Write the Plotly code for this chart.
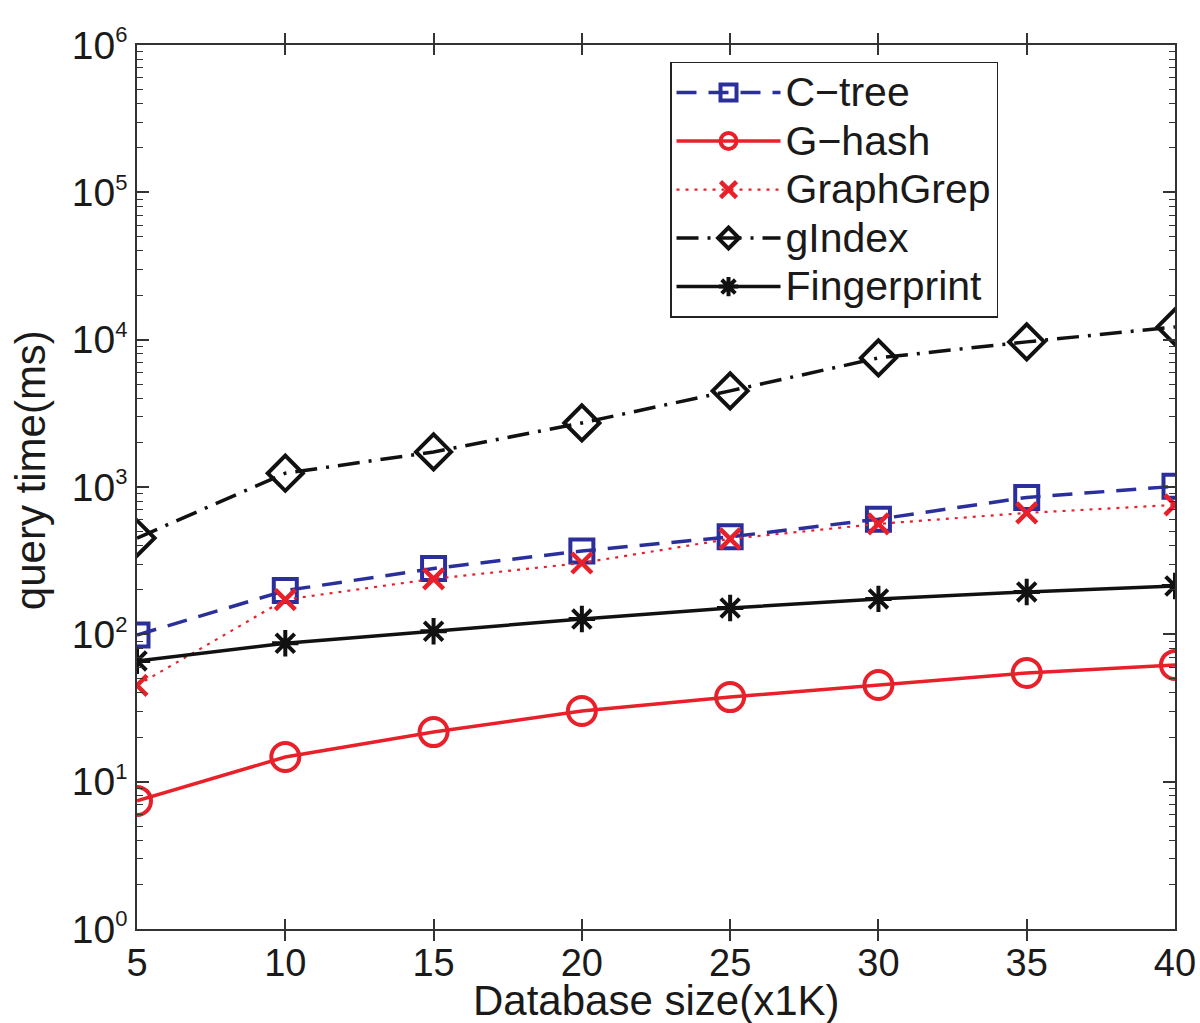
import plotly.graph_objects as go

db_size = [5, 10, 15, 20, 25, 30, 35, 40]
ctree = [99, 198, 280, 368, 459, 605, 850, 1010]
ghash = [7.4, 14.7, 21.7, 30.2, 37.5, 45.3, 54.7, 62]
graphgrep = [45, 172, 238, 305, 445, 562, 667, 756]
gindex = [450, 1240, 1730, 2720, 4490, 7520, 9660, 12200]
fingerprint = [66, 87, 105, 127, 151, 174, 194, 213]

series_names = ["C\u2212tree", "G\u2212hash", "GraphGrep", "gIndex", "Fingerprint"]
ytick_vals = [1, 10, 100, 1000, 10000, 100000, 1000000]
ytick_text = ['10<sup><span style="font-size:22px">%d</span></sup>' % i for i in range(7)]
xtick_vals = [5, 10, 15, 20, 25, 30, 35, 40]
minor_vals = [m * 10 ** e for e in range(6) for m in range(2, 10)]
x_title = "Database size(x1K)"
y_title = "query time(ms)"

BLUE = "#2a2f9c"
RED = "#e8202a"
BLACK = "#111111"
AX = "#333333"
TXT = "#1a1a1a"


def lname(s):
    return '<span style="font-size:41px">%s</span>' % s


fig = go.Figure()
fig.add_trace(go.Scatter(x=db_size, y=ctree, name=lname(series_names[0]), mode="lines+markers",
    line=dict(color=BLUE, width=3.5, dash="20px,12px"),
    marker=dict(symbol="square-open", size=23, color=BLUE, line=dict(width=4, color=BLUE))))
fig.add_trace(go.Scatter(x=db_size, y=ghash, name=lname(series_names[1]), mode="lines+markers",
    line=dict(color=RED, width=3.5),
    marker=dict(symbol="circle-open", size=28, color=RED, line=dict(width=4, color=RED))))
fig.add_trace(go.Scatter(x=db_size, y=graphgrep, name=lname(series_names[2]), mode="lines+markers",
    line=dict(color=RED, width=2.2, dash="3px,6px"),
    marker=dict(symbol="x-thin-open", size=20, color=RED, line=dict(width=4.5, color=RED))))
fig.add_trace(go.Scatter(x=db_size, y=gindex, name=lname(series_names[3]), mode="lines+markers",
    line=dict(color=BLACK, width=3.5, dash="22px,9px,3px,9px"),
    marker=dict(symbol="diamond-open", size=27, color=BLACK, line=dict(width=4, color=BLACK))))
fig.add_trace(go.Scatter(x=db_size, y=fingerprint, name=lname(series_names[4]), mode="lines+markers",
    line=dict(color=BLACK, width=3.5),
    marker=dict(symbol="asterisk-open", size=22, color=BLACK, line=dict(width=4, color=BLACK))))
# invisible trace carrying the mirrored right-hand axis (minor ticks on the right side)
fig.add_trace(go.Scatter(x=db_size, y=fingerprint, yaxis="y2", mode="lines",
    line=dict(width=0), opacity=0, showlegend=False, hoverinfo="skip"))

FONT = "Liberation Sans, Arial, sans-serif"

fig.update_layout(
    width=1200, height=1023,
    margin=dict(l=137, r=25, t=45, b=94),
    paper_bgcolor="white", plot_bgcolor="white",
    font=dict(family=FONT, color=TXT),
    showlegend=True,
    legend=dict(x=0.5135, y=0.981, xanchor="left", yanchor="top",
                bgcolor="white", bordercolor="#222", borderwidth=1.5,
                font=dict(size=35, family=FONT), itemwidth=104,
                tracegroupgap=0),
    yaxis2=dict(type="log", range=[0, 6], overlaying="y", side="right",
                tickvals=ytick_vals, showticklabels=False,
                ticks="inside", ticklen=12, tickwidth=1.5, tickcolor=AX,
                minor=dict(ticks="inside", ticklen=6, tickwidth=1.2, tickcolor=AX,
                           tickvals=minor_vals),
                showline=False, showgrid=False, zeroline=False, automargin=False),
    annotations=[
        dict(text=y_title, textangle=-90, xref="paper", yref="paper",
             x=-0.1031, y=0.519, xanchor="center", yanchor="middle",
             showarrow=False, font=dict(size=42, family=FONT, color=TXT)),
        dict(text=x_title, xref="paper", yref="paper",
             x=0.5, y=-0.081, xanchor="center", yanchor="middle",
             showarrow=False, font=dict(size=42, family=FONT, color=TXT)),
    ],
)
fig.update_xaxes(
    range=[5, 40], tickvals=xtick_vals, ticks="inside", ticklen=10, tickwidth=1.5,
    tickcolor=AX, showline=True, linecolor=AX, linewidth=1.5, mirror="allticks",
    showgrid=False, zeroline=False, tickfont=dict(size=38), automargin=False,
)
fig.layout.yaxis.update(
    type="log", range=[0, 6], tickvals=ytick_vals, ticktext=ytick_text,
    ticks="inside", ticklen=12, tickwidth=1.5, tickcolor=AX,
    minor=dict(ticks="inside", ticklen=6, tickwidth=1.2, tickcolor=AX,
               tickvals=minor_vals),
    showline=True, linecolor=AX, linewidth=1.5, mirror="allticks",
    showgrid=False, zeroline=False, tickfont=dict(size=39), automargin=False,
)

fig.write_html(
    "out.html",
    config={"displayModeBar": False},
    post_script="document.body.style.margin='0';document.body.style.overflow='hidden';",
)
